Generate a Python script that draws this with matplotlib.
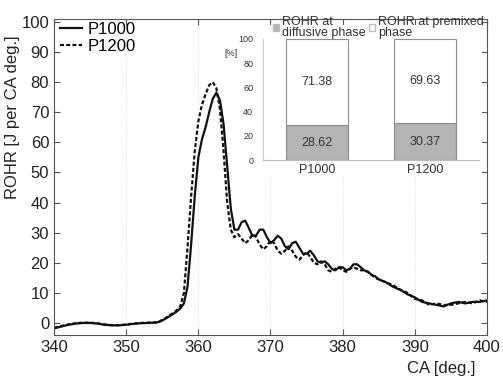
import matplotlib
matplotlib.use('Agg')
import matplotlib.pyplot as plt
from matplotlib.patches import Patch, Rectangle

plt.rcParams['font.family'] = ['Liberation Sans', 'DejaVu Sans']

# crank angle [deg.]
ca = [340, 341, 342, 343, 344, 345, 346, 347, 348, 349, 350, 351, 352, 353, 354,
      354.5, 355, 355.5, 356, 356.5, 357, 357.5, 358, 358.5, 359, 359.5, 360,
      360.5, 361, 361.5, 362, 362.5, 363, 363.5, 364, 364.5, 365, 365.5, 366,
      366.5, 367, 367.5, 368, 368.5, 369, 369.5, 370, 370.5, 371, 371.5, 372,
      372.5, 373, 373.5, 374, 374.5, 375, 375.5, 376, 376.5, 377, 377.5, 378,
      378.5, 379, 379.5, 380, 380.5, 381, 381.5, 382, 382.5, 383, 383.5, 384,
      384.5, 385, 386, 387, 388, 389, 390, 391, 392, 393, 394, 395, 396, 397,
      398, 399, 400]

# ROHR [J per CA deg.]
p1000 = [-1.8, -1.2, -0.6, -0.2, 0.0, 0.0, -0.2, -0.6, -0.8, -0.8, -0.6, -0.3, -0.1, 0.0, 0.1,
         0.3, 0.8, 1.5, 2.2, 3.0, 3.8, 4.8, 6.5, 12, 26, 42, 55,
         61, 65, 70, 74.5, 76.5, 74, 66, 52, 38, 31, 31, 33.5,
         34, 31.5, 29, 29, 31, 31, 28.5, 26.5, 27.5, 29, 28, 25.5,
         24.5, 26.5, 27, 25, 23, 23, 24, 22.5, 20.5, 20, 20.5, 19.5,
         18, 17.5, 18.5, 18.5, 17.5, 18, 19.5, 19.5, 18.5, 17.5, 17, 16,
         15.5, 14.5, 13.5, 12, 11, 9.5, 8.5, 7, 6.5, 6, 5.5, 6.5, 7, 6.5,
         7, 7, 7.5]

p1200 = [-1.6, -1.0, -0.5, -0.1, 0.1, 0.1, -0.1, -0.5, -0.7, -0.7, -0.5, -0.2, 0.0, 0.1, 0.2,
         0.4, 1.0, 1.7, 2.5, 3.3, 4.2, 5.5, 10, 25, 42, 57, 67,
         72.5, 76, 79, 80, 78, 71, 57, 40, 31, 28.5, 29.5, 28,
         26.5, 27.5, 29.5, 28.5, 26, 24.5, 25.5, 27.5, 26.5, 24, 23, 24,
         25.5, 24, 22, 21, 22.5, 23.5, 22, 20, 19.5, 20.5, 19.5, 17.5,
         17, 18, 18.5, 17.5, 17, 18, 18.5, 18, 17.5, 17.5, 17, 16,
         15, 14.5, 13.5, 12.5, 11, 10, 8, 7.5, 6, 6.5, 6, 6, 6.5, 7,
         6.5, 7.5, 7]

# inset: share of ROHR [%]
cases = ['P1000', 'P1200']
diffusive = [28.62, 30.37]
premixed = [71.38, 69.63]

fig = plt.figure(figsize=(5.03, 3.78), dpi=100)
ax = fig.add_axes([54/503, 1-335/378, 433/503, 316/378])

ax.plot(ca, p1000, color='#111111', lw=1.6, label='P1000')
ax.plot(ca, p1200, color='#111111', lw=1.6, ls=(0, (1.8, 1.0)), label='P1200')

ax.set_xlim(340, 400)
ax.set_ylim(-4, 101)
ax.set_xticks(range(340, 401, 10))
ax.set_yticks(range(0, 101, 10))
ax.tick_params(direction='in', top=True, right=True, labelsize=12, length=4,
               color='#555555', labelcolor='#222222')
ax.grid(axis='x', color='#dedede', ls=':', lw=0.7)
for s in ax.spines.values():
    s.set_color('#555555')

ax.set_xlabel('CA [deg.]', fontsize=12, color='#222222')
ax.xaxis.set_label_coords(0.894, -0.082)
ax.set_ylabel('ROHR [J per CA deg.]', fontsize=12, color='#222222')
ax.yaxis.set_label_coords(-0.078, 0.69)

ax.legend(loc='upper left', bbox_to_anchor=(0.014, 0.99), frameon=False,
          fontsize=12, handlelength=1.3, handletextpad=0.35, labelspacing=0.1,
          borderpad=0, borderaxespad=0)

# white background behind the inset
fig.add_artist(Rectangle((236/503, 1-176/378), (482-236)/503, (176-25)/378,
                         transform=fig.transFigure, facecolor='white',
                         edgecolor='none', zorder=2))

ins = fig.add_axes([263/503, 1-160/378, 216/503, 121/378], zorder=3)
xpos = [1, 2]
ins.bar(xpos, diffusive, width=0.57, color='#b4b4b4', edgecolor='#8c8c8c', lw=0.8)
ins.bar(xpos, premixed, width=0.57, bottom=diffusive, color='white',
        edgecolor='#8c8c8c', lw=0.8)
for x, d, p in zip(xpos, diffusive, premixed):
    ins.text(x, d/2, '%.2f' % d, ha='center', va='center', fontsize=9, color='#333333')
    ins.text(x, d + p/2, '%.2f' % p, ha='center', va='center', fontsize=9, color='#333333')

ins.set_xlim(0.5, 2.5)
ins.set_ylim(0, 100)
ins.set_xticks(xpos)
ins.set_xticklabels(cases)
ins.set_yticks(range(0, 101, 20))
ins.tick_params(axis='y', length=0, pad=7, labelsize=6.5, labelcolor='#333333')
ins.tick_params(axis='x', length=0, pad=3, labelsize=9, labelcolor='#333333')
ins.spines['top'].set_visible(False)
ins.spines['right'].set_visible(False)
ins.spines['left'].set_color('#cccccc')
ins.spines['bottom'].set_color('#bbbbbb')
ins.text(-0.148, 0.884, '[%]', transform=ins.transAxes, ha='center', va='center',
         fontsize=6.5, color='#333333')

handles = [Patch(facecolor='#b4b4b4', edgecolor='#bbbbbb'),
           Patch(facecolor='white', edgecolor='#bbbbbb')]
leg = ins.legend(handles, ['ROHR at\ndiffusive phase', 'ROHR at premixed\nphase'],
                 loc='upper left', bbox_to_anchor=(0.046, 1.19), ncol=2,
                 frameon=False, fontsize=9, handlelength=0.45, handleheight=0.45,
                 handletextpad=0.25, columnspacing=0.3, borderpad=0, borderaxespad=0)
for t in leg.get_texts():
    t.set_linespacing(0.85)
    t.set_color('#333333')

fig.savefig('out.png', dpi=100)
